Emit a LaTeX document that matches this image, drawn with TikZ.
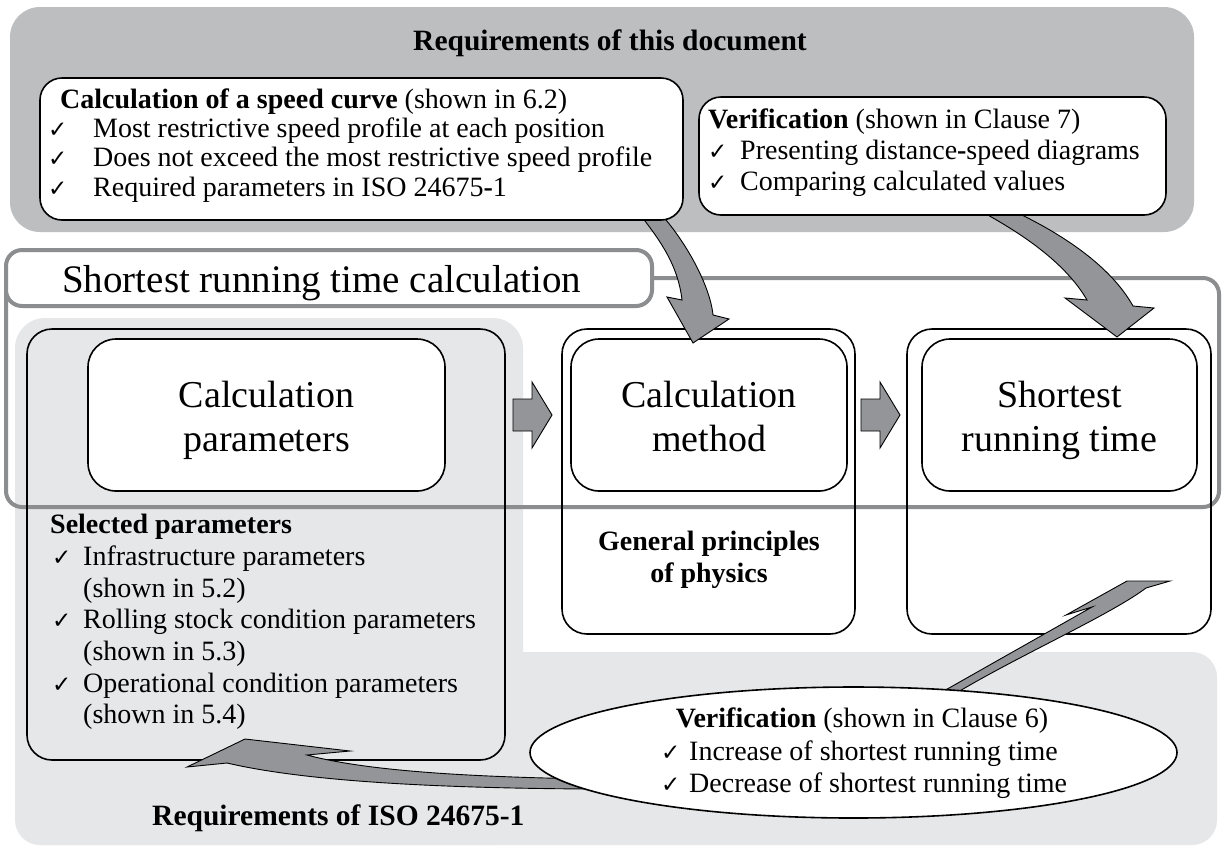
\documentclass[tikz,border=0pt]{standalone}
\usepackage{fontspec}
\setmainfont{Liberation Serif}
\newfontfamily\ckfont{DejaVu Sans}
\usetikzlibrary{shapes.geometric,calc}
\definecolor{topgray}{HTML}{BCBEC0}
\definecolor{lightgraytwo}{HTML}{E6E7E8}
\definecolor{arrowgray}{HTML}{939598}
\definecolor{linegray}{HTML}{8C8D8F}
\newcommand\ckmark{{\ckfont\fontsize{23}{23}\selectfont ✓}}
\newcommand\ckit[2]{\makebox[#1][l]{\ckmark}#2}
\tikzset{
  whitebox/.style={draw=black, line width=1.6pt, fill=white, rounded corners=22pt, inner sep=0pt},
  framebox/.style={draw=black, line width=1.6pt, rounded corners=25pt, inner sep=0pt},
  innerbox/.style={draw=black, line width=1.6pt, fill=white, rounded corners=28pt, inner sep=0pt},
  region/.style={inner sep=0pt, rounded corners=30pt},
  graybar/.style={draw=linegray, line width=4pt, rounded corners=16pt, inner sep=0pt},
  blockarrow/.style={fill=arrowgray, draw=black, line width=0.9pt, line join=miter},
  body/.style={inner sep=0pt, anchor=base west, font=\fontsize{28}{30}\selectfont},
  bodyc/.style={inner sep=0pt, anchor=base, font=\fontsize{28}{30}\selectfont},
  titletext/.style={inner sep=0pt, anchor=base, font=\fontsize{29.5}{32}\selectfont\bfseries},
  bigtext/.style={inner sep=0pt, anchor=base, font=\fontsize{38}{45}\selectfont},
}
\begin{document}
\begin{tikzpicture}[x=1pt,y=-1pt]
\useasboundingbox (0,0) rectangle (1222,847);
\fill[white] (0,0) rectangle (1222,847);
% regions
\node[region, fill=topgray, minimum width=1184pt, minimum height=225pt] (toparea) at (602,119.5) {};
\fill[lightgraytwo, rounded corners=30pt] (15,318) rectangle (523,845);
\fill[lightgraytwo, rounded corners=25pt] (15,652) rectangle (1217,845);
% big gray frame
\node[graybar, minimum width=1213pt, minimum height=229pt] (bigframe) at (612.5,392.5) {};
% outer frames
\node[framebox, minimum width=478pt, minimum height=431pt] (louter) at (266,544.5) {};
\node[framebox, minimum width=293pt, minimum height=305pt] (mouter) at (708.5,481.5) {};
\node[framebox, minimum width=304pt, minimum height=305pt] (router) at (1059,481.5) {};
% inner boxes
\node[innerbox, minimum width=357pt, minimum height=152pt] (linner) at (266.5,415) {};
\node[innerbox, minimum width=276pt, minimum height=152pt] (minner) at (709,415) {};
\node[innerbox, minimum width=275pt, minimum height=152pt] (rinner) at (1059.5,415) {};
% tab
\node[graybar, fill=white, minimum width=646pt, minimum height=56pt] (tab) at (329,278) {};
% block arrows
\draw[blockarrow] (513,399) -- (532,399) -- (532,382) -- (552,415) -- (532,448) -- (532,431) -- (513,431) -- cycle;
\draw[blockarrow] (861,399) -- (880,399) -- (880,382) -- (900,415) -- (880,448) -- (880,431) -- (861,431) -- cycle;
% curved arrows from top boxes
\draw[blockarrow] (638,212) .. controls (660,240) and (678,265) .. (682,300) -- (667,297) -- (693,343) -- (729,319) -- (713,315) .. controls (710,285) and (685,240) .. (659,212) -- cycle;
\draw[blockarrow] (975,208) .. controls (1020,232) and (1065,262) .. (1087,300) -- (1065,298) -- (1117,337) -- (1154,308) -- (1133,306) .. controls (1110,265) and (1060,232) .. (1007,208) -- cycle;
% top boxes
\node[whitebox, minimum width=643pt, minimum height=142pt] (speed) at (361.5,149) {};
\node[whitebox, minimum width=467pt, minimum height=118pt] (verif) at (932.5,156) {};
% arrows from ellipse
\draw[blockarrow] (942,692) -- (1092,607) -- (1066,615) -- (1127,581) -- (1170,581) -- (1146,588) .. controls (1110,615) and (1020,655) .. (958,692) -- cycle;
\draw[blockarrow] (590,779) .. controls (480,777) and (370,772) .. (307,755) -- (350,751) -- (245,739) -- (187,767) -- (227,763) .. controls (300,780) and (420,788) .. (590,789) -- cycle;
% ellipse
\node[ellipse, draw=black, line width=1.6pt, fill=white, minimum width=647pt, minimum height=131pt, inner sep=0pt] (ell) at (853.5,752.5) {};
% texts top
\node[titletext] (toptitle) at (610,50) {Requirements of this document};
\node[body] (s0) at (60,108) {\textbf{Calculation of a speed curve} (shown in 6.2)};
\node[body] (s1) at (48,137) {\ckit{45pt}{Most restrictive speed profile at each position}};
\node[body] (s2) at (48,166) {\ckit{45pt}{Does not exceed the most restrictive speed profile}};
\node[body] (s3) at (48,196) {\ckit{45pt}{Required parameters in ISO 24675\textbf{-}1}};
\node[body] (v0) at (708,128) {\textbf{Verification} (shown in Clause 7)};
\node[body] (v1) at (708,159) {\ckit{32pt}{Presenting distance\textbf{-}speed diagrams}};
\node[body] (v2) at (708,190) {\ckit{32pt}{Comparing calculated values}};
% tab text
\node[inner sep=0pt, anchor=base west, font=\fontsize{39}{45}\selectfont] (tabtxt) at (62,292) {Shortest running time calculation};
% big box texts
\node[bigtext] (l1) at (266.5,407) {Calculation};
\node[bigtext] (l2) at (266.5,451) {parameters};
\node[bigtext] (m1) at (709,407) {Calculation};
\node[bigtext] (m2) at (709,451) {method};
\node[bigtext] (r1) at (1059.5,407) {Shortest};
\node[bigtext] (r2) at (1059.5,451) {running time};
\node[bodyc, font=\fontsize{28}{30}\selectfont\bfseries] (g1) at (709,550) {General principles};
\node[bodyc, font=\fontsize{28}{30}\selectfont\bfseries] (g2) at (709,582) {of physics};
% selected parameters
\node[body, font=\fontsize{28}{30}\selectfont\bfseries] (p0) at (50,533) {Selected parameters};
\node[body] (p1) at (52,565) {\ckit{31pt}{Infrastructure parameters}};
\node[body] (p2) at (83,597) {(shown in 5.2)};
\node[body] (p3) at (52,628) {\ckit{31pt}{Rolling stock condition parameters}};
\node[body] (p4) at (83,660) {(shown in 5.3)};
\node[body] (p5) at (52,692) {\ckit{31pt}{Operational condition parameters}};
\node[body] (p6) at (83,723) {(shown in 5.4)};
% ellipse text
\node[bodyc] (e0) at (862,727) {\textbf{Verification} (shown in Clause 6)};
\node[body] (e1) at (661,760) {\ckit{28pt}{Increase of shortest running time}};
\node[body] (e2) at (661,792) {\ckit{28pt}{Decrease of shortest running time}};
% bottom title
\node[titletext, anchor=base west] (bottitle) at (152,825) {Requirements of ISO 24675-1};
\end{tikzpicture}
\end{document}
